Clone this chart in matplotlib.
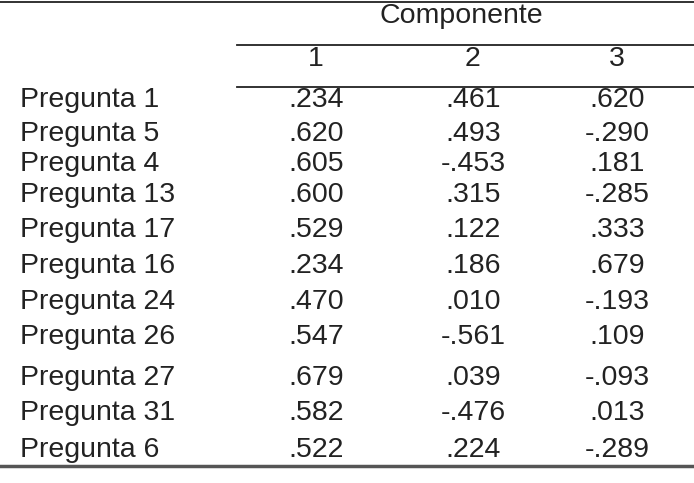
import matplotlib.pyplot as plt

rows = ["Pregunta 1","Pregunta 5","Pregunta 4","Pregunta 13","Pregunta 17","Pregunta 16",
        "Pregunta 24","Pregunta 26","Pregunta 27","Pregunta 31","Pregunta 6"]
comp1 = [".234",".620",".605",".600",".529",".234",".470",".547",".679",".582",".522"]
comp2 = [".461",".493","-.453",".315",".122",".186",".010","-.561",".039","-.476",".224"]
comp3 = [".620","-.290",".181","-.285",".333",".679","-.193",".109","-.093",".013","-.289"]
headers = ["1","2","3"]
title = "Componente"

W, H = 694, 483
fig = plt.figure(figsize=(W/100, H/100), dpi=100)
ax = fig.add_axes([0, 0, 1, 1])
ax.set_xlim(0, W); ax.set_ylim(H, 0); ax.axis('off')
fs = 20.5
fam = 'Liberation Sans'
row_y = [100,134,164,195,230,266,302,337,378,413,450]
col_x = [316, 473, 617]
ax.plot([0, W], [2, 2], color='#222', lw=1.3)
ax.plot([237, W], [45, 45], color='#222', lw=1.3)
ax.plot([237, W], [87, 87], color='#222', lw=1.3)
ax.plot([0, W], [466, 466], color='#555', lw=2.5)
ax.text(461, 16, title, ha='center', va='center', fontsize=fs, family=fam, color='#222')
for x, h in zip(col_x, headers):
    ax.text(x, 59, h, ha='center', va='center', fontsize=fs, family=fam, color='#222')
for y, r, a, b, c in zip(row_y, rows, comp1, comp2, comp3):
    ax.text(20, y, r, ha='left', va='center', fontsize=fs, family=fam, color='#222')
    for x, v in zip(col_x, (a, b, c)):
        ax.text(x, y, v, ha='center', va='center', fontsize=fs, family=fam, color='#222')
fig.savefig('out.png', dpi=100, facecolor='white')
